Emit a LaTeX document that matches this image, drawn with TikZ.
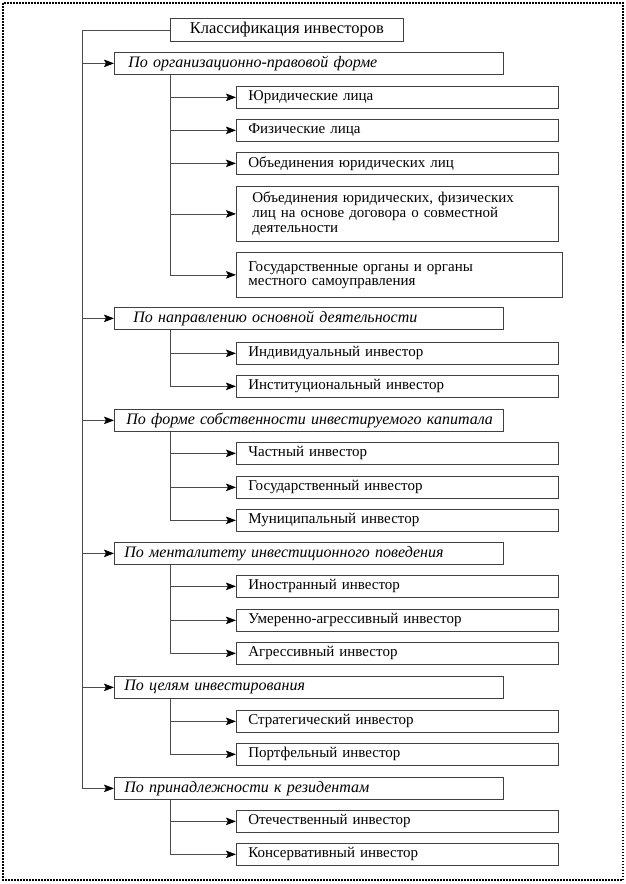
\documentclass[tikz,border=0pt]{standalone}
\usepackage{fontspec}
\setmainfont{Liberation Serif}
\usetikzlibrary{arrows.meta}

\begin{document}
\begin{tikzpicture}[>={Stealth[length=10pt,width=7.5pt,inset=2pt,black]}, x=1pt, y=-1pt,
    box/.style={draw=black!75, line width=0.7pt, anchor=north west, inner sep=0pt,
        minimum height=22pt, font=\fontsize{15}{15}\selectfont},
    titlebox/.style={box, minimum width=233pt, minimum height=23pt, align=center,
        font=\fontsize{16.5}{16.5}\selectfont},
    catbox/.style={box, inner xsep=10pt, text width=369pt, align=left,
        font=\fontsize{16}{16}\selectfont\itshape},
    itembox/.style={box, inner xsep=12pt, text width=298pt, align=left},
    link/.style={draw=black!70, line width=0.7pt},
    arr/.style={link, ->}]
    % поле рисунка
    \useasboundingbox (0,0) rectangle (626,884);
    \draw[line width=1.5pt, dash pattern=on 1.5pt off 1.5pt] (3,3) rectangle (623,880);

    % заголовок
    \node[titlebox] (title) at (170,18) {Классификация инвесторов};

    % признаки классификации
    \node[catbox] (c1) at (114,52)  {\hspace{4pt}По организационно-правовой форме};
    \node[catbox] (c2) at (114,307) {\hspace{9pt}По направлению основной деятельности};
    \node[catbox] (c3) at (114,409) {\hspace{2pt}По форме собственности инвестируемого капитала};
    \node[catbox] (c4) at (114,542) {По менталитету инвестиционного поведения};
    \node[catbox] (c5) at (114,676) {По целям инвестирования};
    \node[catbox] (c6) at (114,777) {По принадлежности к резидентам};

    % виды инвесторов
    \node[itembox] (c1a) at (236,86)  {Юридические лица};
    \node[itembox] (c1b) at (236,119) {Физические лица};
    \node[itembox] (c1c) at (236,152) {Объединения юридических лиц};
    \node[itembox, minimum height=55pt] (c1d) at (236,186)
        {\hspace{4pt}Объединения юридических, физических\\
         \hspace{4pt}лиц на основе договора о совместной\\
         \hspace{4pt}деятельности};
    \node[itembox, text width=302pt, minimum height=45pt,
        font=\fontsize{15}{14}\selectfont] (c1e) at (236,252)
        {Государственные органы и органы\\местного самоуправления};

    \node[itembox] (c2a) at (236,342) {Индивидуальный инвестор};
    \node[itembox] (c2b) at (236,375) {Институциональный инвестор};

    \node[itembox] (c3a) at (236,442) {Частный инвестор};
    \node[itembox] (c3b) at (236,476) {Государственный инвестор};
    \node[itembox] (c3c) at (236,509) {Муниципальный инвестор};

    \node[itembox] (c4a) at (236,575) {Иностранный инвестор};
    \node[itembox] (c4b) at (236,609) {Умеренно-агрессивный инвестор};
    \node[itembox] (c4c) at (236,642) {Агрессивный инвестор};

    \node[itembox] (c5a) at (236,710) {Стратегический инвестор};
    \node[itembox] (c5b) at (236,743) {Портфельный инвестор};

    \node[itembox] (c6a) at (236,810) {Отечественный инвестор};
    \node[itembox] (c6b) at (236,843) {Консервативный инвестор};

    % главная линия
    \coordinate (trunk) at ([xshift=-88pt]title.west);
    \draw[link] (title.west) -- (trunk) -- (trunk |- c6.west);
    \foreach \i in {1,...,6}
        \draw[arr] (trunk |- c\i.west) -- (c\i.west);

    % ответвления к видам
    \foreach \i/\last in {1/e, 2/b, 3/c, 4/c, 5/b, 6/b} {
        \coordinate (b\i) at ([xshift=56pt]c\i.south west);
        \draw[link] (b\i) -- (b\i |- c\i\last.west);
    }
    \foreach \k in {a,b,c,d,e}
        \draw[arr] (b1 |- c1\k.west) -- (c1\k.west);
    \foreach \k in {a,b}
        \draw[arr] (b2 |- c2\k.west) -- (c2\k.west);
    \foreach \k in {a,b,c}
        \draw[arr] (b3 |- c3\k.west) -- (c3\k.west);
    \foreach \k in {a,b,c}
        \draw[arr] (b4 |- c4\k.west) -- (c4\k.west);
    \foreach \k in {a,b}
        \draw[arr] (b5 |- c5\k.west) -- (c5\k.west);
    \foreach \k in {a,b}
        \draw[arr] (b6 |- c6\k.west) -- (c6\k.west);
\end{tikzpicture}
\end{document}
